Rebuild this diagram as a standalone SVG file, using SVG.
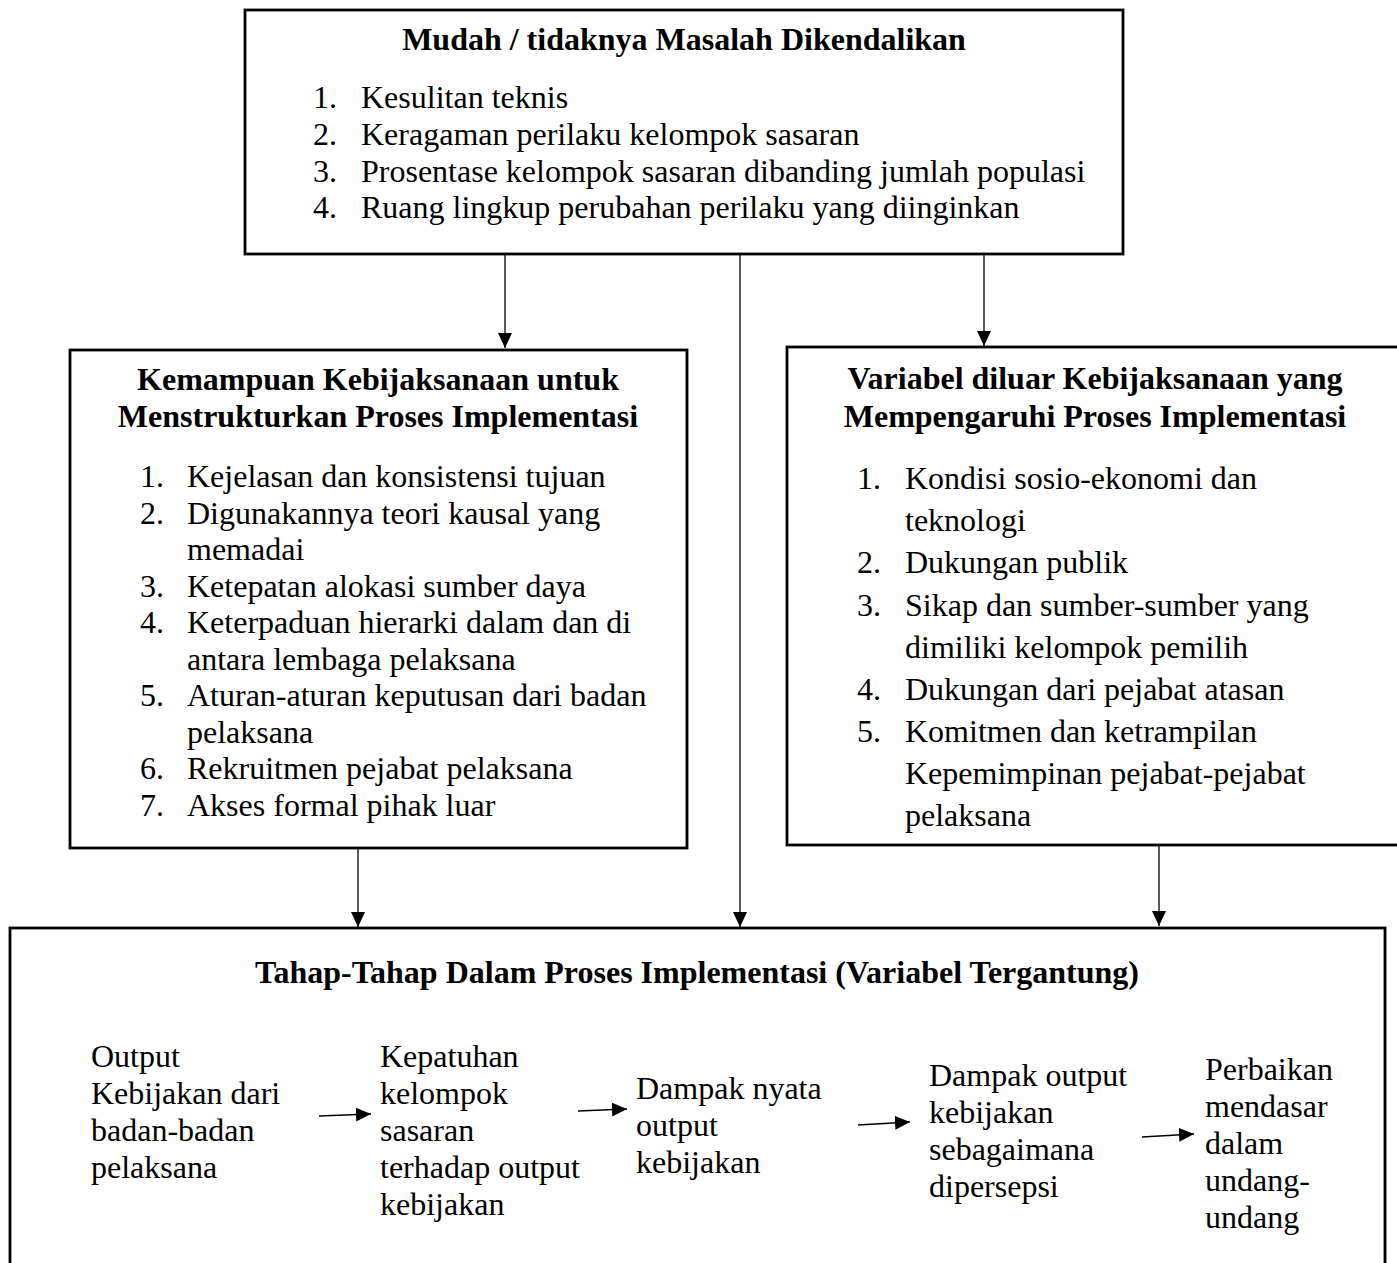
<svg xmlns="http://www.w3.org/2000/svg" width="1397" height="1263" viewBox="0 0 1397 1263">
<defs>
<style>
.box{fill:#fff;stroke:#000;stroke-width:2.8}
.t{font-family:"Liberation Serif","Times New Roman",serif;font-size:32px;fill:#000}
.b{font-weight:bold;text-anchor:middle}
.c{stroke:#000;stroke-width:1.3;fill:none}
.v{marker-end:url(#ah)}
.h{marker-end:url(#sh)}
</style>
<marker id="ah" viewBox="0 0 15 14" refX="15" refY="7" markerWidth="15" markerHeight="14" markerUnits="userSpaceOnUse" orient="auto">
<path d="M0,0 L15,7 L0,14 z" fill="#000"/>
</marker>
<marker id="sh" viewBox="0 0 15 14" refX="15" refY="7" markerWidth="15" markerHeight="14" markerUnits="userSpaceOnUse" orient="auto">
<path d="M0,0 L15,7 L0,14 z" fill="#000"/>
</marker>
</defs>
<rect width="1397" height="1263" fill="#fff"/>

<g id="connectors">
<line class="c v" x1="505" y1="255" x2="505" y2="348"/>
<line class="c" x1="740" y1="255" x2="740" y2="860"/>
<line class="c v" x1="740" y1="860" x2="740" y2="927"/>
<line class="c v" x1="984" y1="255" x2="984" y2="346"/>
<line class="c v" x1="358" y1="849" x2="358" y2="927"/>
<line class="c v" x1="1159" y1="846" x2="1159" y2="926"/>
</g>

<g id="top">
<rect class="box" x="245" y="10" width="878" height="244"/>
<text class="t b" x="684" y="50">Mudah / tidaknya Masalah Dikendalikan</text>
<text class="t" x="313" y="108">1.</text><text class="t" x="361" y="108">Kesulitan  teknis</text>
<text class="t" x="313" y="145">2.</text><text class="t" x="361" y="145">Keragaman perilaku kelompok sasaran</text>
<text class="t" x="313" y="182">3.</text><text class="t" x="361" y="182">Prosentase kelompok sasaran dibanding jumlah populasi</text>
<text class="t" x="313" y="218">4.</text><text class="t" x="361" y="218">Ruang lingkup perubahan perilaku yang diinginkan</text>
</g>

<g id="left">
<rect class="box" x="70" y="350" width="617" height="498"/>
<text class="t b" x="378" y="390">Kemampuan Kebijaksanaan untuk</text>
<text class="t b" x="378" y="427">Menstrukturkan Proses Implementasi</text>
<text class="t" x="140" y="487">1.</text><text class="t" x="187" y="487">Kejelasan dan konsistensi tujuan</text>
<text class="t" x="140" y="523.5">2.</text><text class="t" x="187" y="523.5">Digunakannya teori kausal yang</text>
<text class="t" x="187" y="560">memadai</text>
<text class="t" x="140" y="596.5">3.</text><text class="t" x="187" y="596.5">Ketepatan alokasi sumber daya</text>
<text class="t" x="140" y="633">4.</text><text class="t" x="187" y="633">Keterpaduan hierarki dalam dan di</text>
<text class="t" x="187" y="669.5">antara lembaga pelaksana</text>
<text class="t" x="140" y="706">5.</text><text class="t" x="187" y="706">Aturan-aturan keputusan dari badan</text>
<text class="t" x="187" y="742.5">pelaksana</text>
<text class="t" x="140" y="779">6.</text><text class="t" x="187" y="779">Rekruitmen pejabat pelaksana</text>
<text class="t" x="140" y="815.5">7.</text><text class="t" x="187" y="815.5">Akses formal pihak luar</text>
</g>

<g id="right">
<rect class="box" x="787" y="347" width="620" height="498"/>
<text class="t b" x="1095" y="389">Variabel diluar Kebijaksanaan yang</text>
<text class="t b" x="1095" y="427">Mempengaruhi Proses Implementasi</text>
<text class="t" x="857" y="489">1.</text><text class="t" x="905" y="489">Kondisi sosio-ekonomi dan</text>
<text class="t" x="905" y="531">teknologi</text>
<text class="t" x="857" y="573">2.</text><text class="t" x="905" y="573">Dukungan publik</text>
<text class="t" x="857" y="616">3.</text><text class="t" x="905" y="616">Sikap dan sumber-sumber yang</text>
<text class="t" x="905" y="658">dimiliki kelompok pemilih</text>
<text class="t" x="857" y="700">4.</text><text class="t" x="905" y="700">Dukungan dari pejabat atasan</text>
<text class="t" x="857" y="742">5.</text><text class="t" x="905" y="742">Komitmen dan ketrampilan</text>
<text class="t" x="905" y="784">Kepemimpinan pejabat-pejabat</text>
<text class="t" x="905" y="826">pelaksana</text>
</g>

<g id="bottom">
<rect class="box" x="10" y="928" width="1375" height="345"/>
<text class="t b" x="697" y="983">Tahap-Tahap Dalam Proses Implementasi (Variabel Tergantung)</text>
<g id="stage1">
<text class="t" x="91" y="1067">Output</text>
<text class="t" x="91" y="1104">Kebijakan dari</text>
<text class="t" x="91" y="1141">badan-badan</text>
<text class="t" x="91" y="1178">pelaksana</text>
</g>
<g id="stage2">
<text class="t" x="380" y="1067">Kepatuhan</text>
<text class="t" x="380" y="1104">kelompok</text>
<text class="t" x="380" y="1141">sasaran</text>
<text class="t" x="380" y="1178">terhadap output</text>
<text class="t" x="380" y="1215">kebijakan</text>
</g>
<g id="stage3">
<text class="t" x="636" y="1099">Dampak nyata</text>
<text class="t" x="636" y="1136">output</text>
<text class="t" x="636" y="1173">kebijakan</text>
</g>
<g id="stage4">
<text class="t" x="929" y="1086">Dampak output</text>
<text class="t" x="929" y="1123">kebijakan</text>
<text class="t" x="929" y="1160">sebagaimana</text>
<text class="t" x="929" y="1197">dipersepsi</text>
</g>
<g id="stage5">
<text class="t" x="1205" y="1080">Perbaikan</text>
<text class="t" x="1205" y="1117">mendasar</text>
<text class="t" x="1205" y="1154">dalam</text>
<text class="t" x="1205" y="1191">undang-</text>
<text class="t" x="1205" y="1228">undang</text>
</g>
</g>

<g id="stage-connectors">
<line class="c h" x1="319" y1="1116" x2="371" y2="1114"/>
<line class="c h" x1="578" y1="1111" x2="627" y2="1109"/>
<line class="c h" x1="858" y1="1125" x2="910" y2="1122"/>
<line class="c h" x1="1142" y1="1137" x2="1194" y2="1134"/>
</g>
</svg>
